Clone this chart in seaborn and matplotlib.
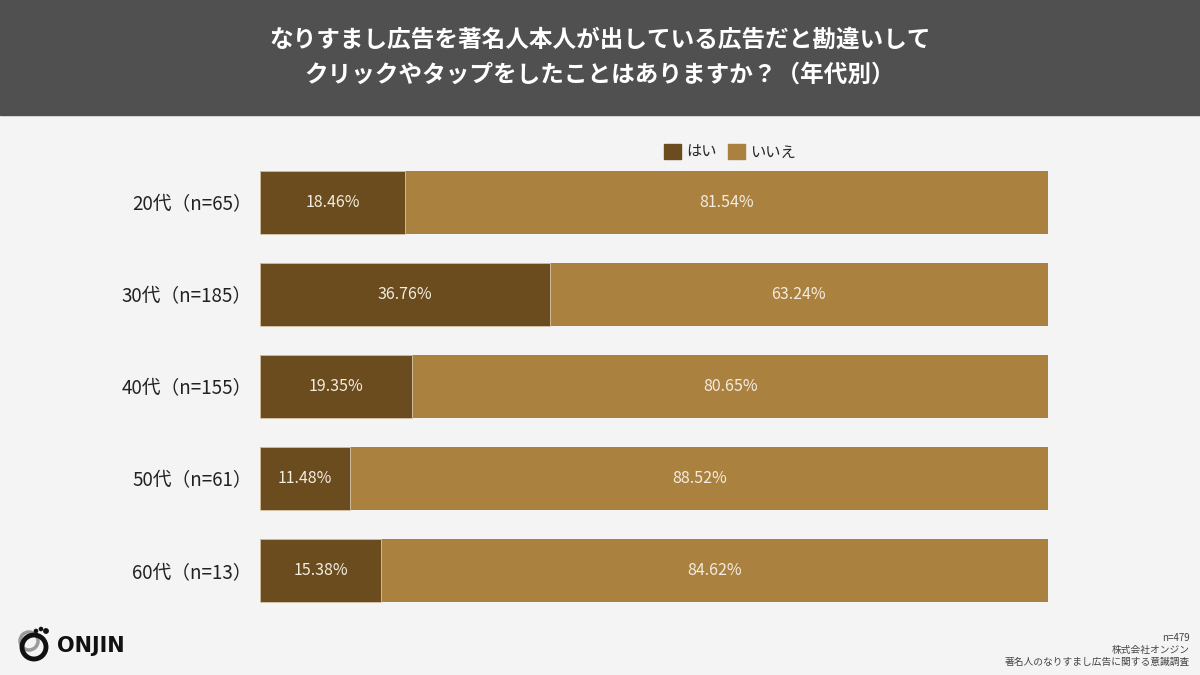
import matplotlib
matplotlib.use('Agg')
import matplotlib.pyplot as plt
import matplotlib.patches as mpatches
import pandas as pd
import seaborn as sns

# data
ages = ['20代（n=65）', '30代（n=185）', '40代（n=155）', '50代（n=61）', '60代（n=13）']
yes_pct = [18.46, 36.76, 19.35, 11.48, 15.38]
no_pct = [81.54, 63.24, 80.65, 88.52, 84.62]
series = ['はい', 'いいえ']

dark = '#6a4c1e'
light = '#ab8140'
bg = '#f4f4f4'

sns.set_style('white')
plt.rcParams['font.family'] = ['Noto Sans CJK JP', 'DejaVu Sans']

df = pd.DataFrame({'age': ages, 'yes': yes_pct, 'no': no_pct})
df['total'] = df['yes'] + df['no']

fig = plt.figure(figsize=(12, 6.75), dpi=100, facecolor=bg)
ax = fig.add_axes([260 / 1200, 1 - 617 / 675, (1048 - 260) / 1200, (617 - 156) / 675])
ax.set_facecolor(bg)

# stacked bars: full length in light colour, 'yes' part drawn over it
sns.barplot(data=df, y='age', x='total', color=light, orient='h',
            width=0.683, ax=ax, saturation=1, linewidth=0)
sns.barplot(data=df, y='age', x='yes', color=dark, orient='h',
            width=0.683, ax=ax, saturation=1, linewidth=0.6, edgecolor='#d9c8ad')

for i, (y, n) in enumerate(zip(yes_pct, no_pct)):
    ax.text(y / 2, i, f'{y:.2f}%', ha='center', va='center', color='#f3ece0', fontsize=11.5)
    ax.text(y + n / 2, i, f'{n:.2f}%', ha='center', va='center', color='#f3ece0', fontsize=11.5)

ax.set_xlim(0, 100)
ax.set_ylim(4.5, -0.5)
ax.set_xlabel('')
ax.set_ylabel('')
ax.set_xticks([])
ax.tick_params(axis='y', length=0, pad=6, labelsize=13.5, labelcolor='#222222')
sns.despine(ax=ax, left=True, bottom=True)

# header band
fig.patches.append(mpatches.Rectangle((0, 1 - 115 / 675), 1, 115 / 675,
                                      transform=fig.transFigure, color='#505050', zorder=0))
fig.text(0.5, 1 - 57 / 675,
         'なりすまし広告を著名人本人が出している広告だと勘違いして\nクリックやタップをしたことはありますか？（年代別）',
         ha='center', va='center', color='white', fontsize=17, fontweight='bold', linespacing=1.55)

# legend
handles = [mpatches.Patch(color=dark, label=series[0]), mpatches.Patch(color=light, label=series[1])]
fig.legend(handles=handles, loc='center', bbox_to_anchor=(730 / 1200, 1 - 152 / 675), ncol=2,
           frameon=False, fontsize=11, handlelength=1.1, handleheight=1.1,
           handletextpad=0.3, columnspacing=0.8)

# footnote
fig.text(1190 / 1200, 1 - 638 / 675, 'n=479', ha='right', va='center', fontsize=7, color='#444444')
fig.text(1190 / 1200, 1 - 650 / 675, '株式会社オンジン', ha='right', va='center', fontsize=7, color='#444444')
fig.text(1190 / 1200, 1 - 662 / 675, '著名人のなりすまし広告に関する意識調査', ha='right', va='center',
         fontsize=7, color='#444444')

# simple logo
lax = fig.add_axes([14 / 1200, 1 - 664 / 675, 40 / 1200, 40 / 675])
lax.set_xlim(0, 40)
lax.set_ylim(0, 40)
lax.set_aspect('equal')
lax.axis('off')
lax.add_patch(mpatches.Circle((15, 23), 9, fill=False, lw=2.5, ec='#9a9a9a'))
lax.add_patch(mpatches.Circle((20, 17), 12, fill=False, lw=3.5, ec='#111111'))
for cx, cy, r in [(22, 33, 1.6), (27, 35, 1.6), (32, 33, 2.2)]:
    lax.add_patch(mpatches.Circle((cx, cy), r, color='#111111'))
fig.text(57 / 1200, 1 - 646 / 675, 'ONJIN', ha='left', va='center', fontsize=15,
         fontweight='bold', color='#111111', family=['DejaVu Sans'])

fig.savefig('out.png', dpi=100, facecolor=bg)
